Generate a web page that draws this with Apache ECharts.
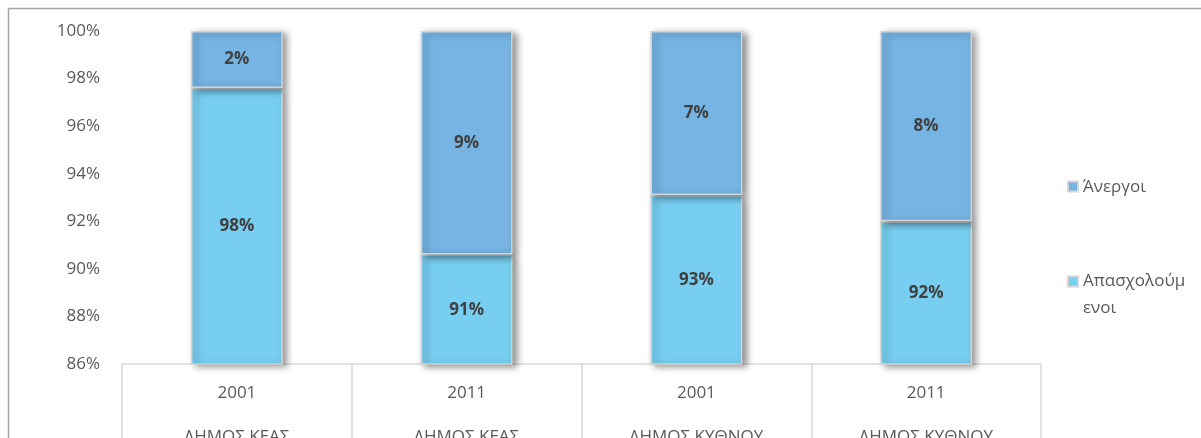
<!DOCTYPE html>
<html>
<head>
<meta charset="utf-8">
<title>Απασχολούμενοι και άνεργοι</title>
<script src="https://cdn.jsdelivr.net/npm/echarts@6/dist/echarts.min.js"></script>
<style>
  html, body { margin: 0; padding: 0; background: #fff; }
  #chart { width: 1201px; height: 438px; }
</style>
</head>
<body>
<div id="chart"></div>
<script>
// Census years and municipalities (two-level category labels)
const years = ['2001', '2011', '2001', '2011'];
const municipalities = ['ΔΗΜΟΣ ΚΕΑΣ', 'ΔΗΜΟΣ ΚΕΑΣ', 'ΔΗΜΟΣ ΚΥΘΝΟΥ', 'ΔΗΜΟΣ ΚΥΘΝΟΥ'];

// Share of the labour force, in percent
const employed = [97.6, 90.6, 93.1, 92.0];
const unemployed = [2.4, 9.4, 6.9, 8.0];

const yTicks = [86, 88, 90, 92, 94, 96, 98, 100];

const FONT = '"Open Sans", "Noto Sans", sans-serif';
const TEXT = '#595959';

const categories = years.map((y, i) => y + '\n' + municipalities[i]);

const barStyle = (color) => ({
  color: color,
  borderColor: '#d4d4d4',
  borderWidth: 1.5,
  shadowColor: 'rgba(0,0,0,0.45)',
  shadowBlur: 7,
  shadowOffsetX: 4,
  shadowOffsetY: 2
});

const valueLabel = {
  show: true,
  position: 'inside',
  formatter: (p) => Math.round(p.value) + '%',
  color: '#404040',
  fontFamily: FONT,
  fontWeight: 'bold',
  fontSize: 17
};

// Legend icons: a square placed inside a tall box so it lines up with the first text line
const iconSingle = 'path://M0,0L0.01,0M0,21.5h10v10h-10zM0,54L0.01,54';
const iconDouble = 'path://M0,0L0.01,0M0,8.5h10v10h-10zM0,54L0.01,54';

const chart = echarts.init(document.getElementById('chart'), null, { renderer: 'canvas' });

chart.setOption({
  backgroundColor: '#ffffff',
  animation: false,
  grid: { left: 122, right: 160, top: 31, bottom: 74, outerBoundsMode: 'none', containLabel: false },
  xAxis: {
    type: 'category',
    data: categories,
    axisLine: { show: true, lineStyle: { color: '#d9d9d9', width: 1.5 } },
    axisTick: { show: true, length: 80, lineStyle: { color: '#d9d9d9', width: 1.5 } },
    axisLabel: {
      color: TEXT,
      fontFamily: FONT,
      fontSize: 17,
      lineHeight: 44,
      margin: 7
    }
  },
  yAxis: {
    type: 'value',
    min: yTicks[0],
    max: yTicks[yTicks.length - 1],
    interval: 2,
    splitLine: { show: false },
    axisLine: { show: false },
    axisTick: { show: false },
    axisLabel: {
      color: TEXT,
      fontFamily: FONT,
      fontSize: 17,
      margin: 22,
      formatter: (v) => v + '%'
    }
  },
  legend: {
    orient: 'vertical',
    left: 1062,
    top: 154,
    itemWidth: 10,
    itemHeight: 54,
    itemGap: 52,
    textStyle: { color: TEXT, fontFamily: FONT, fontSize: 17, lineHeight: 27 },
    formatter: (name) => name === 'Απασχολούμενοι' ? 'Απασχολούμ\nενοι' : name,
    data: [
      { name: 'Άνεργοι', icon: iconSingle },
      { name: 'Απασχολούμενοι', icon: iconDouble }
    ]
  },
  graphic: [
    {
      type: 'rect',
      silent: true,
      shape: { x: 8.5, y: 8.5, width: 1400, height: 600 },
      style: { fill: 'none', stroke: '#a6a6a6', lineWidth: 1.5 }
    }
  ],
  series: [
    {
      name: 'Απασχολούμενοι',
      type: 'bar',
      stack: 'total',
      barWidth: '40%',
      data: employed,
      itemStyle: barStyle('#78cef0'),
      label: valueLabel
    },
    {
      name: 'Άνεργοι',
      type: 'bar',
      stack: 'total',
      barWidth: '40%',
      data: unemployed,
      itemStyle: barStyle('#75b4e3'),
      label: valueLabel
    }
  ]
});
</script>
</body>
</html>
